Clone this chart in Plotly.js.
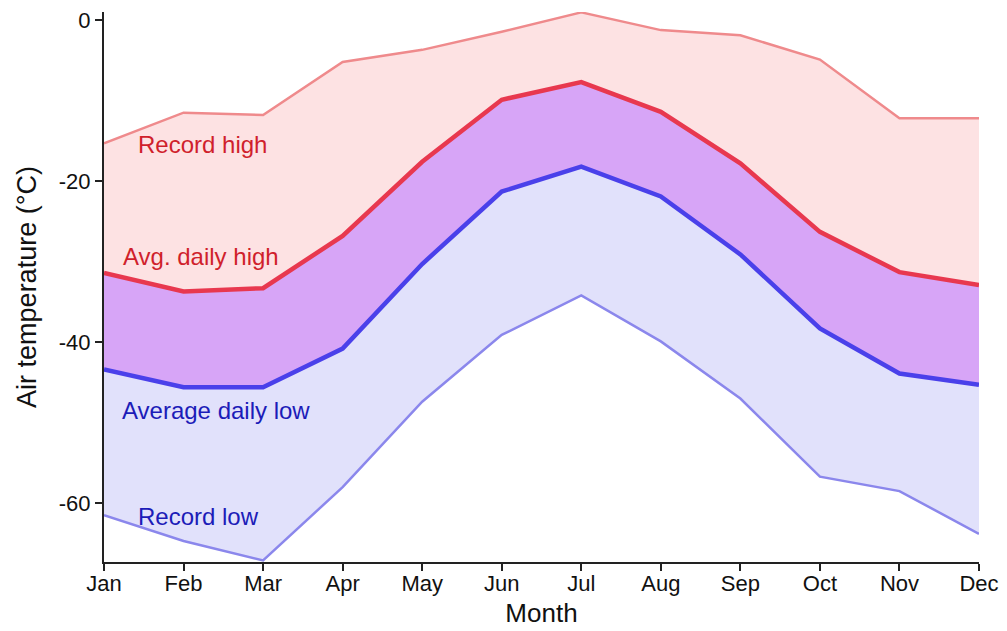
<!DOCTYPE html>
<html>
<head>
<meta charset="utf-8">
<script src="https://cdn.plot.ly/plotly-3.0.1.min.js"></script>
<style>html,body{margin:0;padding:0;background:#fff;}#chart{width:1007px;height:631px;}</style>
</head>
<body>
<div id="chart"></div>
<script>
const months = ["Jan","Feb","Mar","Apr","May","Jun","Jul","Aug","Sep","Oct","Nov","Dec"];
const recordHigh = [-15.3, -11.5, -11.8, -5.2, -3.7, -1.45, 0.95, -1.25, -1.9, -4.9, -12.2, -12.2];
const avgHigh    = [-31.4, -33.7, -33.3, -26.8, -17.6, -9.9, -7.7, -11.4, -17.8, -26.3, -31.3, -32.9];
const avgLow     = [-43.4, -45.6, -45.6, -40.8, -30.3, -21.3, -18.2, -21.9, -29.1, -38.3, -43.9, -45.3];
const recordLow  = [-61.5, -64.7, -67.1, -58.0, -47.4, -39.1, -34.2, -39.9, -47.0, -56.7, -58.5, -63.8];
const yTicks = [0, -20, -40, -60];
const labelText = ["Record high", "Avg. daily high", "Average daily low", "Record low"];
const labelX = [0.405, 0.215, 0.205, 0.405];
const labelY = [-15.4, -29.4, -48.5, -61.7];

const xs = months.map((m, i) => i);
const font = "Liberation Sans, Arial, sans-serif";

const traces = [
  {x: xs, y: recordLow, mode: "lines", line: {width: 0}, hoverinfo: "skip"},
  {x: xs, y: avgLow, mode: "lines", line: {width: 0}, fill: "tonexty", fillcolor: "#e1e1fb", hoverinfo: "skip"},
  {x: xs, y: avgHigh, mode: "lines", line: {width: 0}, fill: "tonexty", fillcolor: "#d7a5f7", hoverinfo: "skip"},
  {x: xs, y: recordHigh, mode: "lines", line: {width: 0}, fill: "tonexty", fillcolor: "#fde2e3", hoverinfo: "skip"},
  {x: xs, y: recordLow, mode: "lines", line: {color: "#8b87ec", width: 2.5}},
  {x: xs, y: avgLow, mode: "lines", line: {color: "#4a40ea", width: 4.5}},
  {x: xs, y: avgHigh, mode: "lines", line: {color: "#e8384f", width: 4.5}},
  {x: xs, y: recordHigh, mode: "lines", line: {color: "#ef8a8c", width: 2.5}}
];

const labelColors = ["#d01f2c", "#d01f2c", "#1c1cb8", "#1c1cb8"];
const annotations = labelText.map((t, i) => ({
  x: labelX[i], y: labelY[i], xref: "x", yref: "y", text: t, showarrow: false,
  xanchor: "left", yanchor: "middle", font: {family: font, size: 24, color: labelColors[i]}
}));

const layout = {
  width: 1007, height: 631,
  margin: {l: 104, r: 28, t: 12, b: 69},
  paper_bgcolor: "#fff", plot_bgcolor: "#fff",
  showlegend: false,
  font: {family: font, color: "#000"},
  xaxis: {
    range: [0, 11], tickvals: xs, ticktext: months,
    showgrid: false, zeroline: false, showline: true, linecolor: "#222", linewidth: 2,
    ticks: "outside", ticklen: 7, tickwidth: 2, tickcolor: "#222",
    ticklabelstandoff: -6,
    tickfont: {family: font, size: 22, color: "#111"},
    title: {text: "Month", font: {family: font, size: 26, color: "#111"}, standoff: 8}
  },
  yaxis: {
    range: [-67.3, 1.0], tickvals: yTicks, ticktext: yTicks.map(String),
    showgrid: false, zeroline: false, showline: true, linecolor: "#222", linewidth: 2,
    ticks: "outside", ticklen: 7, tickwidth: 2, tickcolor: "#222",
    tickfont: {family: font, size: 22, color: "#111"},
    title: {text: "Air temperature (°C)", font: {family: font, size: 27, color: "#111"}, standoff: 14}
  },
  annotations: annotations
};

Plotly.newPlot("chart", traces, layout, {displayModeBar: false, staticPlot: true});
</script>
</body>
</html>
